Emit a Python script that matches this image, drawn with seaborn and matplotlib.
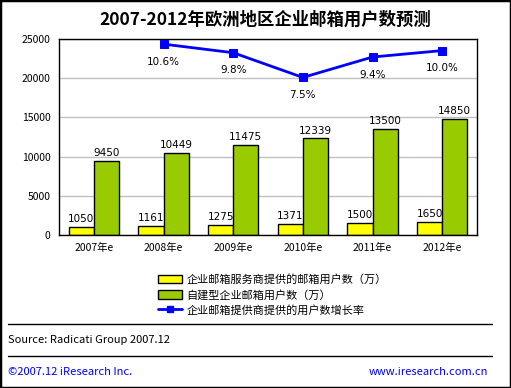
import matplotlib
matplotlib.use("Agg")
import matplotlib.pyplot as plt
from matplotlib.patches import Rectangle, Patch
from matplotlib.lines import Line2D
import numpy as np
import pandas as pd
import seaborn as sns

# data
years = ['2007年e', '2008年e', '2009年e', '2010年e', '2011年e', '2012年e']
provider_users = [1050, 1161, 1275, 1371, 1500, 1650]
self_built_users = [9450, 10449, 11475, 12339, 13500, 14850]
growth_years = ['2008年e', '2009年e', '2010年e', '2011年e', '2012年e']
growth_rate = [10.6, 9.8, 7.5, 9.4, 10.0]

series_names = ['企业邮箱服务商提供的邮箱用户数（万）', '自建型企业邮箱用户数（万）']
line_name = '企业邮箱提供商提供的用户数增长率'

sns.set_theme(style='white')
plt.rcParams['font.family'] = ['Noto Sans CJK SC', 'DejaVu Sans']
plt.rcParams['text.color'] = 'black'
plt.rcParams['xtick.color'] = 'black'
plt.rcParams['ytick.color'] = 'black'

df = pd.DataFrame({
    'year': years * 2,
    'users': provider_users + self_built_users,
    'series': [series_names[0]] * len(years) + [series_names[1]] * len(years),
})

fig = plt.figure(figsize=(5.11, 3.88), dpi=100)
ax = fig.add_axes([0.1155, 0.3943, 0.818, 0.505])

sns.barplot(data=df, x='year', y='users', hue='series',
            palette=['#FFFF00', '#99CC00'], saturation=1, width=0.72,
            edgecolor='black', linewidth=1, ax=ax, legend=False)
for cont in ax.containers:
    ax.bar_label(cont, padding=2, fontsize=7.5, family='DejaVu Sans')

ax.set_ylim(0, 25000)
ax.set_yticks(range(0, 25001, 5000))
ax.yaxis.grid(True, color='#C0C0C0', linewidth=1)
ax.set_axisbelow(True)
ax.set_xlabel('')
ax.set_ylabel('')
ax.tick_params(axis='both', labelsize=7.5, length=0, pad=6)
for s in ax.spines.values():
    s.set_color('black')
    s.set_linewidth(1)

# growth rate on a hidden secondary axis
ax2 = ax.twinx()
xpos = [years.index(y) for y in growth_years]
sns.lineplot(x=xpos, y=growth_rate, color='#0000FF', linewidth=2,
             marker='s', markersize=6, markeredgecolor='#0000FF', ax=ax2)
ax2.set_ylim(-7.16, 11.07)
ax2.set_yticks([])
ax2.set_ylabel('')
for s in ax2.spines.values():
    s.set_visible(False)
for x, v in zip(xpos, growth_rate):
    ax2.annotate(f'{v:.1f}%', (x, v), xytext=(0, -9), textcoords='offset points',
                 ha='center', va='top', fontsize=7.5, family='DejaVu Sans')
ax.set_xlim(-0.5, len(years) - 0.5)

fig.text(0.52, 0.948, '2007-2012年欧洲地区企业邮箱用户数预测',
         ha='center', va='center', fontsize=12.5, fontweight='bold')

handles = [Patch(facecolor='#FFFF00', edgecolor='black', linewidth=1),
           Patch(facecolor='#99CC00', edgecolor='black', linewidth=1),
           Line2D([0], [0], color='#0000FF', linewidth=2, marker='s', markersize=4)]
fig.legend(handles, series_names + [line_name], loc='upper left',
           bbox_to_anchor=(0.3, 0.305), frameon=False, fontsize=8,
           handlelength=2.2, handleheight=0.8, labelspacing=0.4,
           handletextpad=0.4, borderaxespad=0)

for yy in [0.165, 0.0825]:
    fig.add_artist(Line2D([8 / 511, 492 / 511], [yy, yy], color='black',
                          linewidth=1, transform=fig.transFigure))

fig.text(8 / 511, 0.124, 'Source: Radicati Group 2007.12', fontsize=8,
         va='center', ha='left')
fig.text(8 / 511, 0.041, '©2007.12 iResearch Inc.', fontsize=8,
         va='center', ha='left', color='#0000FF')
fig.text(488 / 511, 0.041, 'www.iresearch.com.cn', fontsize=8,
         va='center', ha='right', color='#0000FF')

fig.add_artist(Rectangle((0, 0), 1, 1, transform=fig.transFigure,
                         fill=False, edgecolor='black', linewidth=2.5))

fig.savefig('out.png', dpi=100)
